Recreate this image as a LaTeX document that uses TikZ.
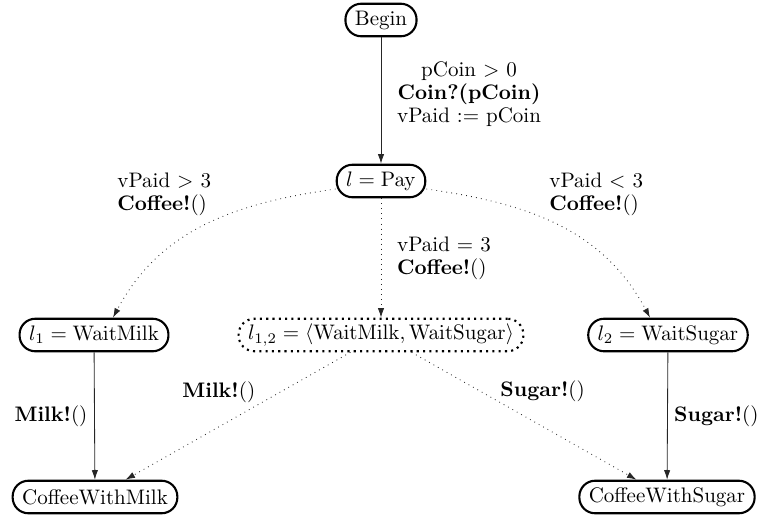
\documentclass[tikz,border=0pt]{standalone}
\usetikzlibrary{arrows.meta,calc}
\tikzset{
  loc/.style  ={rectangle, rounded corners=7.5pt, draw, line width=1pt, minimum height=15.5pt,
                inner xsep=4.5pt, inner ysep=1pt},
  locp/.style ={loc, dotted},
  tr/.style   ={-{Latex[length=4.5pt,width=3pt]}, draw=black!85},
  trd/.style  ={tr, dotted},
  lbl/.style  ={align=left, inner sep=0pt, anchor=west,
                font=\fontsize{10}{10.8}\selectfont},
}

\begin{document}
\begin{tikzpicture}[x=0.4763pt, y=-0.4763pt]
\useasboundingbox (0,0) rectangle (764,519);
\node[loc]  (begin)     at (381,20)  {Begin};
\node[loc]  (pay)       at (381,181) {$l = \mathrm{Pay}$};
\node[loc]  (waitmilk)  at (94,335)  {$l_1 = \mathrm{WaitMilk}$};
\node[locp] (both)      at (381,335) {$l_{1,2} = \langle \mathrm{WaitMilk}, \mathrm{WaitSugar} \rangle$};
\node[loc]  (waitsugar) at (668,335) {$l_2 = \mathrm{WaitSugar}$};
\node[loc]  (cwm)       at (95,497)  {CoffeeWithMilk};
\node[loc]  (cws)       at (667,497) {CoffeeWithSugar};
% guard labels
\node[lbl] (gmilk)  at (117,194) {vPaid $>$ 3\\\textbf{Coffee!}()};
\node[lbl] (gsugar) at (549,194) {vPaid $<$ 3\\\textbf{Coffee!}()};
\node[lbl] (smilk)  at (182,392) {\textbf{Milk!}()};
\node[lbl] (ssugar) at (500,391) {\textbf{Sugar!}()};
% transitions
\draw[tr] (begin) -- node[lbl, align=center, pos=.45, xshift=7.5pt]
   {pCoin $>$ 0\\\textbf{Coin?(pCoin)}\\vPaid $:=$ pCoin} (pay);
\draw[trd] (pay) -- node[lbl, midway, xshift=7.5pt] {vPaid $=$ 3\\\textbf{Coffee!}()} (both);
\draw[trd] (pay.190) to[out=188, in=62] ($(waitmilk.north)+(19,0)$);
\draw[trd] (pay.350) to[out=-8, in=118] ($(waitsugar.north)+(-18,0)$);
\draw[tr] (waitmilk) -- node[lbl, midway, anchor=east, xshift=-3.2pt] {\textbf{Milk!}()} (cwm);
\draw[tr] (waitsugar) -- node[lbl, midway, xshift=3pt] {\textbf{Sugar!}()} (cws);
\draw[trd] (both) -- (cwm);
\draw[trd] (both) -- (cws);
\end{tikzpicture}
\end{document}
